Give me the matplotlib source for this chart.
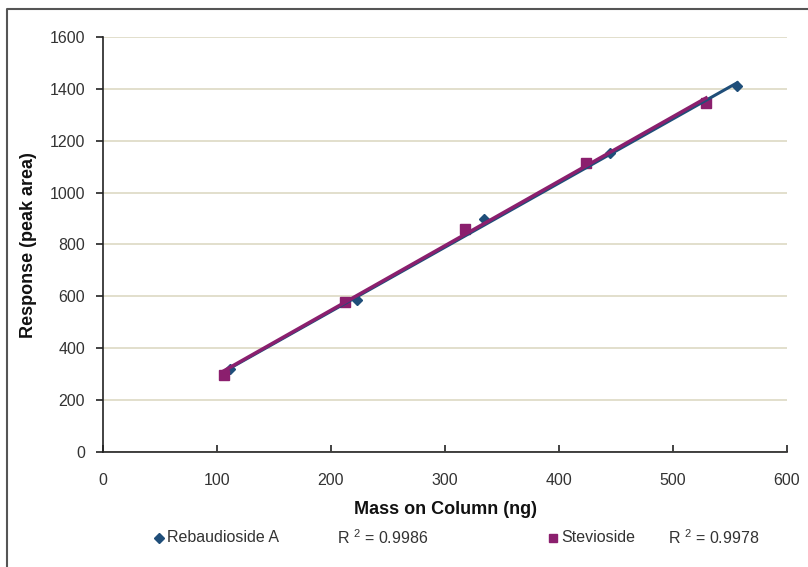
import numpy as np
import matplotlib
matplotlib.use('Agg')
import matplotlib.pyplot as plt
from matplotlib.lines import Line2D

plt.rcParams['font.family'] = ['Liberation Sans', 'DejaVu Sans']
plt.rcParams['mathtext.default'] = 'regular'

# data
reb_mass = [111.4, 222.5, 334.5, 445.0, 556.4]
reb_resp = [319, 586, 898, 1154, 1411]
stev_mass = [106.0, 212.0, 317.5, 423.4, 529.0]
stev_resp = [297, 579, 860, 1115, 1344]
reb_r2 = 0.9986
stev_r2 = 0.9978

blue = '#1f4e79'
purple = '#8b1f6e'
grid_col = '#ddd9c3'

fig = plt.figure(figsize=(8.08, 5.67), dpi=100)
ax = fig.add_axes([103/808, 1 - 452/567, 684/808, 415/567])

# Reb A
ax.plot(reb_mass, reb_resp, 'D', color=blue, markersize=5.5, zorder=3)
m, b = np.polyfit(reb_mass, reb_resp, 1)
xs = np.array([min(reb_mass), max(reb_mass)])
ax.plot(xs, m * xs + b, color=blue, lw=2.2, zorder=4)

# Stevioside
ax.plot(stev_mass, stev_resp, 's', color=purple, markersize=7, zorder=3)
m, b = np.polyfit(stev_mass, stev_resp, 1)
xs = np.array([min(stev_mass), max(stev_mass)])
ax.plot(xs, m * xs + b, color=purple, lw=2.5, zorder=5)

ax.set_xlim(0, 600)
ax.set_ylim(0, 1600)
ax.set_xticks(range(0, 601, 100))
ax.set_yticks(range(0, 1601, 200))
ax.grid(axis='y', color=grid_col, lw=1.2)
ax.set_axisbelow(True)
for s in ['top', 'right']:
    ax.spines[s].set_visible(False)
for s in ['left', 'bottom']:
    ax.spines[s].set_color('#222222')
    ax.spines[s].set_linewidth(1.2)
ax.tick_params(axis='y', direction='out', length=5, width=1.2, pad=8,
               labelsize=11.5, labelcolor='#333333', color='#222222')
ax.tick_params(axis='x', direction='in', length=5, width=1.2, pad=15,
               labelsize=11.5, labelcolor='#333333', color='#222222')

fig.text(445/808, 1 - 509/567, 'Mass on Column (ng)', ha='center', va='center',
         fontsize=13, fontweight='bold', color='#111111')
fig.text(29/808, 1 - 245/567, 'Response (peak area)', ha='center', va='center',
         rotation=90, fontsize=13, fontweight='bold', color='#111111')

# legend row
ly = 1 - 538/567
fig.add_artist(Line2D([159/808], [ly], marker='D', color=blue, markersize=5,
                      transform=fig.transFigure))
fig.text(167/808, ly, 'Rebaudioside A', ha='left', va='center', fontsize=11.5, color='#333333')
fig.text(337/808, ly, 'R $^{2}$ = %.4f' % reb_r2, ha='left', va='center', fontsize=11.5, color='#333333')
fig.add_artist(Line2D([553/808], [ly], marker='s', color=purple, markersize=6,
                      transform=fig.transFigure))
fig.text(561/808, ly, 'Stevioside', ha='left', va='center', fontsize=11.5, color='#333333')
fig.text(668/808, ly, 'R $^{2}$ = %.4f' % stev_r2, ha='left', va='center', fontsize=11.5, color='#333333')

# outer frame (top and left edges visible)
fig.add_artist(Line2D([7/808, 7/808, 1.0], [0.0, 1 - 9/567, 1 - 9/567],
                      color='#555555', lw=1.5, transform=fig.transFigure))

fig.savefig('out.png', dpi=100)
